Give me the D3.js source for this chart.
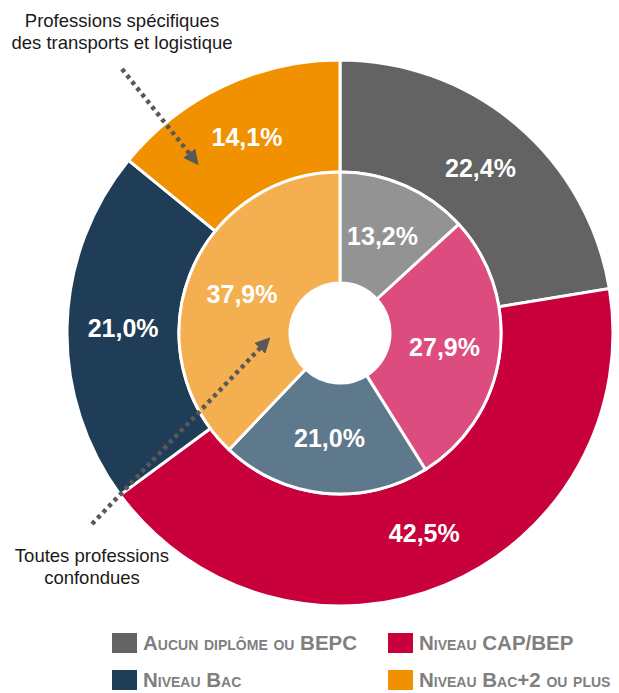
<!DOCTYPE html>
<html>
<head>
<meta charset="utf-8">
<script src="https://cdn.jsdelivr.net/npm/d3@7"></script>
<style>
  body { margin: 0; background: #fff; }
  svg { display: block; font-family: "Liberation Sans", Arial, sans-serif; }
</style>
</head>
<body>
<div id="chart"></div>
<script>
// Niveaux de diplome (legend order)
var categories = ["Aucun diplôme ou BEPC", "Niveau CAP/BEP", "Niveau Bac", "Niveau Bac+2 ou plus"];
// Outer ring: professions spécifiques des transports et logistique
var outerValues = [22.4, 42.5, 21.0, 14.1];
// Inner ring: toutes professions confondues
var innerValues = [13.2, 27.9, 21.0, 37.9];

var outerColours = ["#636363", "#C8003C", "#1F3D57", "#F29100"],
    innerColours = ["#939393", "#DC4C7E", "#5E788C", "#F4B050"];

var width = 619,
    height = 693,
    cx = 340,
    cy = 333,
    rHole = 50,
    rMid = 161,
    rOuter = 273;

var svg = d3.select("#chart").append("svg")
    .attr("width", width)
    .attr("height", height);

var defs = svg.append("defs");
defs.append("marker")
    .attr("id", "head")
    .attr("viewBox", "0 0 10 10")
    .attr("refX", 4).attr("refY", 5)
    .attr("markerWidth", 3.4).attr("markerHeight", 3.4)
    .attr("markerUnits", "strokeWidth")
    .attr("orient", "auto")
    .append("path")
    .attr("d", "M0,0 L10,5 L0,10 z")
    .attr("fill", "#595959");

var pie = d3.pie().sort(null).value(function (d) { return d; });

var fmt = function (v) { return v.toFixed(1).replace(".", ",") + "%"; };

var g = svg.append("g").attr("transform", "translate(" + cx + "," + cy + ")");

function ring(values, colours, r0, r1) {
    var arc = d3.arc().innerRadius(r0).outerRadius(r1);
    var arcs = pie(values);
    var rg = g.append("g");
    rg.selectAll("path")
        .data(arcs)
        .enter().append("path")
        .attr("d", arc)
        .attr("fill", function (d, i) { return colours[i]; })
        .attr("stroke", "#fff")
        .attr("stroke-width", 3);
    rg.selectAll("text")
        .data(arcs)
        .enter().append("text")
        .attr("transform", function (d) { return "translate(" + arc.centroid(d) + ")"; })
        .attr("text-anchor", "middle")
        .attr("dy", "0.36em")
        .attr("fill", "#fff")
        .style("font-size", "25px")
        .style("font-weight", "bold")
        .text(function (d) { return fmt(d.value); });
}

ring(outerValues, outerColours, rMid, rOuter);
ring(innerValues, innerColours, rHole, rMid);

// dotted arrows
svg.append("line")
    .attr("x1", 122).attr("y1", 69).attr("x2", 193).attr("y2", 158)
    .attr("stroke", "#595959").attr("stroke-width", 4.5)
    .attr("stroke-dasharray", "4,4")
    .attr("marker-end", "url(#head)");

svg.append("line")
    .attr("x1", 92).attr("y1", 524).attr("x2", 264).attr("y2", 344)
    .attr("stroke", "#595959").attr("stroke-width", 4.5)
    .attr("stroke-dasharray", "4,4")
    .attr("marker-end", "url(#head)");

// annotations
var notes = [
    { x: 122, y: 27, lines: ["Professions spécifiques", "des transports et logistique"] },
    { x: 92, y: 562, lines: ["Toutes professions", "confondues"] }
];
notes.forEach(function (n) {
    var t = svg.append("text")
        .attr("x", n.x).attr("y", n.y)
        .attr("text-anchor", "middle")
        .attr("fill", "#1a1a1a")
        .style("font-size", "18.5px");
    n.lines.forEach(function (l, i) {
        t.append("tspan").attr("x", n.x).attr("dy", i ? 22 : 0).text(l);
    });
});

// legend
var legend = svg.append("g");
var items = legend.selectAll("g")
    .data(categories)
    .enter().append("g")
    .attr("transform", function (d, i) {
        return "translate(" + (i % 2 ? 388 : 112) + "," + (i < 2 ? 633 : 670) + ")";
    });
items.append("rect")
    .attr("width", 25).attr("height", 20)
    .attr("fill", function (d, i) { return outerColours[i]; });
items.append("text")
    .attr("x", 31).attr("y", 17)
    .attr("fill", "#7F7F7F")
    .style("font-size", "20.5px")
    .style("font-weight", "bold")
    .style("font-variant", "small-caps")
    .text(function (d) { return d; });
</script>
</body>
</html>
